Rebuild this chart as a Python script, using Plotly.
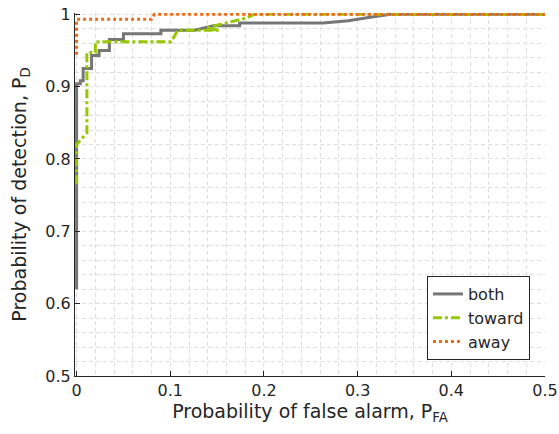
import plotly.graph_objects as go

# ROC data (PFA, PD)
both_pfa = [0, 0, 0.004, 0.004, 0.007, 0.007, 0.016, 0.016, 0.024, 0.024, 0.035, 0.035,
            0.05, 0.05, 0.09, 0.09, 0.126, 0.146, 0.174, 0.174, 0.263, 0.29, 0.31, 0.335, 0.5]
both_pd = [0.62, 0.904, 0.904, 0.908, 0.908, 0.925, 0.925, 0.943, 0.943, 0.950, 0.950, 0.965,
           0.965, 0.973, 0.973, 0.978, 0.978, 0.984, 0.984, 0.988, 0.988, 0.991, 0.995, 1.0, 1.0]

toward_pfa = [0, 0, 0.011, 0.011, 0.02, 0.02, 0.101, 0.108, 0.152, 0.138, 0.182, 0.19, 0.5]
toward_pd = [0.765, 0.82, 0.836, 0.947, 0.947, 0.962, 0.962, 0.978, 0.978, 0.981, 0.995, 1.0, 1.0]

away_pfa = [0, 0, 0.08, 0.083, 0.5]
away_pd = [0.944, 0.993, 0.993, 1.0, 1.0]

x_ticks = [0, 0.1, 0.2, 0.3, 0.4, 0.5]
y_ticks = [0.5, 0.6, 0.7, 0.8, 0.9, 1.0]
y_ticklabels = ["0.5", "0.6", "0.7", "0.8", "0.9", "1"]
x_ticklabels = ["0", "0.1", "0.2", "0.3", "0.4", "0.5"]

fig = go.Figure()
fig.add_trace(go.Scatter(x=both_pfa, y=both_pd, mode="lines", name="both",
                         line=dict(color="#767676", width=3)))
fig.add_trace(go.Scatter(x=toward_pfa, y=toward_pd, mode="lines", name="toward",
                         line=dict(color="#95c800", width=3, dash="dashdot")))
fig.add_trace(go.Scatter(x=away_pfa, y=away_pd, mode="lines", name="away",
                         line=dict(color="#f06a14", width=3, dash="dot")))

font_family = "DejaVu Sans, sans-serif"
grid_col = "#dedede"
axis_common = dict(
    showline=True, linecolor="#262626", linewidth=1,
    ticks="inside", ticklen=5, tickcolor="#262626",
    showgrid=True, gridcolor=grid_col, griddash="4px,3px", gridwidth=1,
    zeroline=False, mirror=False, automargin=False,
    tickfont=dict(family=font_family, size=16, color="#262626"),
)

fig.update_layout(
    width=559, height=434,
    margin=dict(l=75, r=14, t=13, b=58),
    paper_bgcolor="white", plot_bgcolor="white",
    font=dict(family=font_family, color="#262626"),
    xaxis=dict(range=[-0.0017, 0.5], tickvals=x_ticks, ticktext=x_ticklabels,
               minor=dict(dtick=0.02, showgrid=True, gridcolor=grid_col, griddash="4px,3px", ticks=""),
               title=dict(text="Probability of false alarm, P<sub>FA</sub>",
                          font=dict(size=19, family=font_family, color="#262626"), standoff=5),
               **axis_common),
    yaxis=dict(range=[0.5, 1.0017], tickvals=y_ticks, ticktext=y_ticklabels,
               minor=dict(dtick=0.02, showgrid=True, gridcolor=grid_col, griddash="4px,3px", ticks=""),
               title=dict(text="Probability of detection, P<sub>D</sub>",
                          font=dict(size=19, family=font_family, color="#262626"), standoff=13),
               **axis_common),
    legend=dict(x=0.968, y=0.044, xanchor="right", yanchor="bottom",
                bgcolor="white", bordercolor="#262626", borderwidth=1,
                font=dict(size=16, family=font_family, color="#262626"),
                tracegroupgap=0),
    showlegend=True,
)

fig.write_html("out.html")
